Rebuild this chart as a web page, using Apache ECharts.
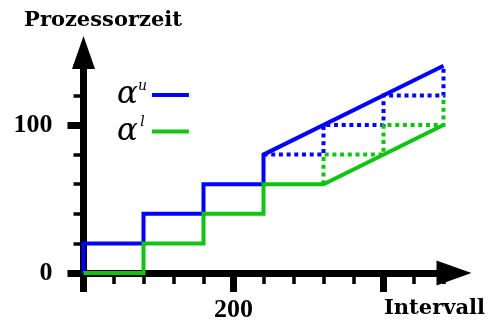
<!DOCTYPE html>
<html>
<head>
<meta charset="utf-8">
<script src="https://cdn.jsdelivr.net/npm/echarts@6/dist/echarts.min.js"></script>
<style>
html,body{margin:0;padding:0;background:#fff;}
#chart{width:488px;height:321px;}
</style>
</head>
<body>
<div id="chart"></div>
<script>
// ---- data ----
var upperName = 'αu';
var lowerName = 'αl';
var upperCurve = [[0,0],[0,20],[80,20],[80,40],[160,40],[160,60],[240,60],[240,80],[480,140]];
var lowerCurve = [[0,0],[80,0],[80,20],[160,20],[160,40],[240,40],[240,60],[320,60],[480,100]];
var upperSteps = [[240,80],[320,80],[320,100],[400,100],[400,120],[480,120],[480,140]];
var lowerSteps = [[320,60],[320,80],[400,80],[400,100],[480,100],[480,120]];
var xMajorTicks = [0,200,400];
var xMinorTicks = [40,80,120,160,240,280,320,360,440,480];
var xLabels = [200];
var yMajorTicks = [0,100];
var yMinorTicks = [20,40,60,80,120,140];
var yLabels = [0,100];
var xName = 'Intervall';
var yName = 'Prozessorzeit';

var BLUE = '#0000ff';
var GREEN = '#10c410';
var XMAX = 494, YMAX = 149;
var labelFont = {fontFamily:'Liberation Serif', fontWeight:'bold', fontSize:26, color:'#000'};
var nameFont = {fontFamily:'DejaVu Serif', fontWeight:'bold', fontSize:21, color:'#000'};

var chart = echarts.init(document.getElementById('chart'), null, {renderer:'canvas'});
chart.setOption({
  animation:false,
  backgroundColor:'#fff',
  grid:{left:83.5, right:34, top:52.5, bottom:48, containLabel:false, outerBoundsMode:'none'},
  legend:{
    show:true, orient:'vertical', left:117, top:79, padding:0, itemGap:5,
    align:'right', icon:'rect', itemWidth:37, itemHeight:4, selectedMode:false,
    data:[upperName, lowerName],
    formatter:function(n){ return '{a|α}{s|' + n.slice(1) + '}'; },
    textStyle:{
      rich:{
        a:{fontFamily:'DejaVu Serif', fontStyle:'italic', fontSize:31, lineHeight:32, color:'#000'},
        s:{fontFamily:'DejaVu Serif', fontStyle:'italic', fontSize:14, lineHeight:32, width:9, align:'left', verticalAlign:'top', color:'#000'}
      }
    }
  },
  xAxis:[
    {type:'value', min:0, max:XMAX, position:'bottom',
     name:xName, nameLocation:'end', nameGap:31,
     nameTextStyle:Object.assign({align:'right', verticalAlign:'top', padding:[25,0,0,0]}, nameFont),
     axisLine:{show:true, symbol:['none','triangle'], symbolSize:[25,35], lineStyle:{color:'#000', width:7}},
     axisTick:{show:true, customValues:xMinorTicks, length:11, lineStyle:{color:'#000', width:3.5}},
     axisLabel:{show:false}, splitLine:{show:false}},
    {type:'value', min:0, max:XMAX, position:'bottom',
     axisLine:{show:false},
     axisTick:{show:true, customValues:xMajorTicks, length:19, lineStyle:{color:'#000', width:7}},
     axisLabel:Object.assign({show:true, customValues:xLabels, margin:24}, labelFont),
     splitLine:{show:false}}
  ],
  yAxis:[
    {type:'value', min:0, max:YMAX, position:'left',
     name:yName, nameLocation:'end', nameGap:32,
     nameTextStyle:Object.assign({align:'center', verticalAlign:'middle', padding:[0,0,0,39]}, nameFont),
     axisLine:{show:true, symbol:['none','triangle'], symbolSize:[23,33], lineStyle:{color:'#000', width:7}},
     axisTick:{show:true, customValues:yMinorTicks, length:10, lineStyle:{color:'#000', width:3.5}},
     axisLabel:{show:false}, splitLine:{show:false}},
    {type:'value', min:0, max:YMAX, position:'left',
     axisLine:{show:false},
     axisTick:{show:true, customValues:yMajorTicks, length:16, lineStyle:{color:'#000', width:7}},
     axisLabel:Object.assign({show:true, customValues:yLabels, margin:31}, labelFont),
     splitLine:{show:false}}
  ],
  series:[
    {type:'line', data:upperSteps, xAxisIndex:0, yAxisIndex:0, showSymbol:false, symbol:'none', clip:false, z:3,
     lineStyle:{color:BLUE, width:4, type:[4,3.7], cap:'butt', join:'miter'}, silent:true},
    {type:'line', data:lowerSteps, xAxisIndex:0, yAxisIndex:0, showSymbol:false, symbol:'none', clip:false, z:3,
     lineStyle:{color:GREEN, width:4, type:[4,3.7], cap:'butt', join:'miter'}, silent:true},
    {name:upperName, type:'line', data:upperCurve, xAxisIndex:0, yAxisIndex:0, showSymbol:false, symbol:'none', clip:false, z:4,
     itemStyle:{color:BLUE}, lineStyle:{color:BLUE, width:4, join:'miter'}},
    {name:lowerName, type:'line', data:lowerCurve, xAxisIndex:0, yAxisIndex:0, showSymbol:false, symbol:'none', clip:false, z:4,
     itemStyle:{color:GREEN}, lineStyle:{color:GREEN, width:4, join:'miter'}}
  ]
});
</script>
</body>
</html>
